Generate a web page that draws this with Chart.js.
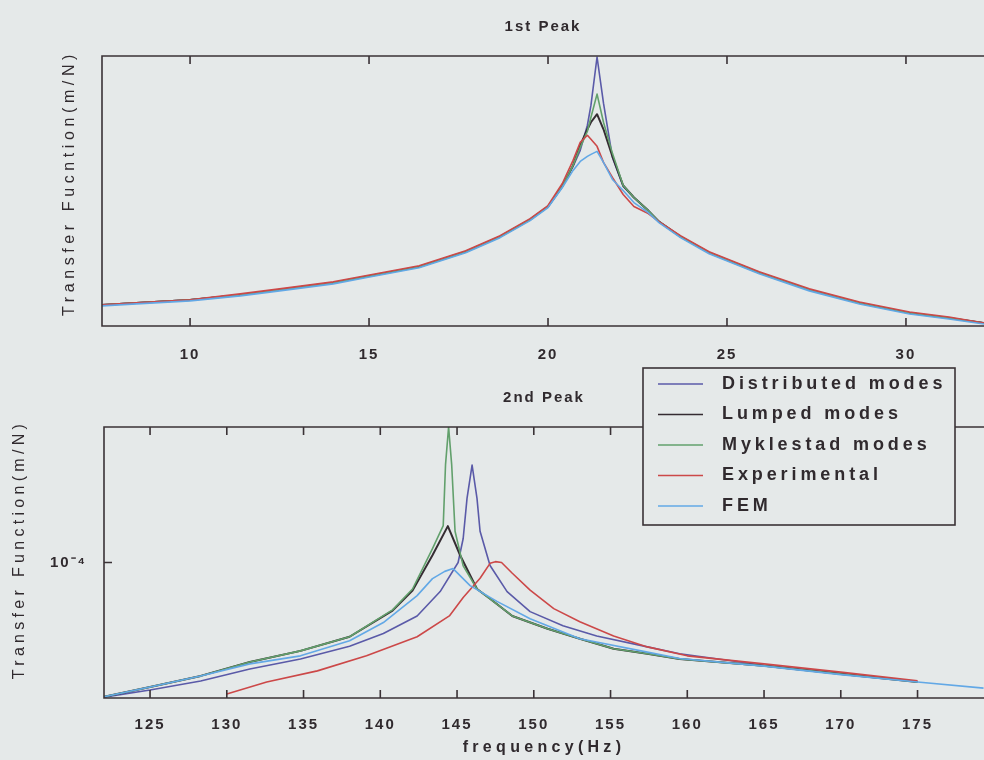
<!DOCTYPE html>
<html>
<head>
<meta charset="utf-8">
<title>Transfer function peaks</title>
<script src="https://cdn.jsdelivr.net/npm/chart.js@4.4.0/dist/chart.umd.min.js"></script>
<style>
  html, body { margin: 0; padding: 0; background: #e5e9e9; overflow: hidden; }
  .panel { position: absolute; left: 0; width: 984px; }
  #peak1 { top: 0; height: 360px; }
  #peak2 { top: 360px; height: 400px; }
</style>
</head>
<body>
<div class="panel" id="peak1"><canvas id="chart1"></canvas></div>
<div class="panel" id="peak2"><canvas id="chart2"></canvas></div>
<script>
// series shared by both subplots
const seriesNames = ['Distributed modes', 'Lumped modes', 'Myklestad modes', 'Experimental', 'FEM'];
const seriesColors = ['#5a5aa8', '#352c32', '#62a06c', '#cc4848', '#62a8e6'];
const seriesWidths = [1.6, 2, 1.6, 1.6, 1.6];

// 1st peak: frequency (Hz) and magnitude (x1e-5 m/N)
const freq1 = [7.54, 8.5, 10, 11.4, 12.5, 14, 14.9, 16.4, 17.7, 18.66, 19.5, 20, 20.4, 20.7, 20.9, 21.1, 21.2, 21.37, 21.55, 21.8, 22.1, 22.4, 22.8, 23.1, 23.7, 24.5, 25.9, 27.3, 28.7, 30.1, 31.2, 32.18];
const distMag1 = [2.1, 2.3, 2.6, 3.1, 3.6, 4.3, 4.9, 5.9, 7.4, 8.9, 10.6, 11.9, 13.9, 15.9, 17.5, 20.0, 22.0, 26.8, 22.2, 16.8, 13.9, 12.8, 11.5, 10.4, 8.9, 7.3, 5.3, 3.6, 2.3, 1.3, 0.8, 0.3];
const lumpMag1 = [2.1, 2.3, 2.6, 3.1, 3.6, 4.3, 4.9, 5.9, 7.4, 8.9, 10.6, 11.9, 13.9, 16.0, 18.0, 19.6, 20.3, 21.1, 19.6, 16.9, 14.0, 12.8, 11.5, 10.4, 8.9, 7.3, 5.3, 3.6, 2.3, 1.3, 0.8, 0.3];
const mykMag1 = [2.1, 2.3, 2.6, 3.1, 3.6, 4.3, 4.9, 5.9, 7.4, 8.9, 10.6, 11.9, 13.9, 16.0, 17.8, 19.4, 20.8, 23.1, 20.3, 17.2, 14.0, 12.8, 11.5, 10.4, 8.9, 7.3, 5.3, 3.6, 2.3, 1.3, 0.8, 0.3];
const expMag1 = [2.1, 2.3, 2.6, 3.2, 3.7, 4.4, 5.0, 6.0, 7.5, 9.0, 10.7, 12.0, 14.2, 16.5, 18.3, 19.0, 18.6, 17.9, 16.3, 14.8, 13.1, 11.9, 11.2, 10.4, 9.0, 7.4, 5.4, 3.7, 2.4, 1.4, 0.9, 0.3];
const femMag1 = [2.0, 2.2, 2.5, 3.0, 3.5, 4.2, 4.8, 5.8, 7.3, 8.8, 10.5, 11.8, 13.8, 15.5, 16.4, 16.9, 17.1, 17.4, 16.3, 14.6, 13.5, 12.3, 11.3, 10.3, 8.8, 7.2, 5.2, 3.5, 2.2, 1.2, 0.7, 0.2];
const xTicks1 = [10, 15, 20, 25, 30];

// 2nd peak: frequency (Hz) and magnitude (m/N), log axis
const distFreq2 = [122.0, 125, 128.3, 131.5, 134.8, 138.0, 140.2, 142.4, 143.9, 145.07, 145.4, 145.65, 145.98, 146.3, 146.5, 147.15, 148.26, 149.76, 151.9, 154.1, 157.4, 159.5, 165, 170, 175];
const distMag2 = [2.02e-5, 2.2e-5, 2.45e-5, 2.82e-5, 3.18e-5, 3.7e-5, 4.3e-5, 5.3e-5, 7.08e-5, 1.0e-4, 1.33e-4, 2.14e-4, 3.18e-4, 2.14e-4, 1.45e-4, 9.65e-5, 7.08e-5, 5.58e-5, 4.72e-5, 4.18e-5, 3.67e-5, 3.38e-5, 2.95e-5, 2.68e-5, 2.43e-5];
const lumpFreq2 = [122.0, 125, 128.3, 131.5, 134.8, 138.0, 140.8, 142.1, 143.4, 144.4, 145.2, 146.3, 147.15, 148.6, 150.9, 153, 155.2, 157.4, 159.5, 165, 170, 175];
const lumpMag2 = [2.03e-5, 2.28e-5, 2.6e-5, 3.07e-5, 3.5e-5, 4.14e-5, 5.65e-5, 7.16e-5, 1.09e-4, 1.54e-4, 1.09e-4, 7.3e-5, 6.5e-5, 5.3e-5, 4.55e-5, 4.04e-5, 3.59e-5, 3.38e-5, 3.18e-5, 2.93e-5, 2.66e-5, 2.42e-5];
const mykFreq2 = [122.0, 125, 128.3, 131.5, 134.8, 138.0, 140.8, 142.1, 143.4, 144.1, 144.25, 144.45, 144.65, 144.87, 145.4, 146.3, 147.15, 148.6, 150.9, 153, 155.2, 157.4, 159.5, 165, 170, 175];
const mykMag2 = [2.03e-5, 2.28e-5, 2.6e-5, 3.07e-5, 3.5e-5, 4.14e-5, 5.7e-5, 7.3e-5, 1.18e-4, 1.55e-4, 3.2e-4, 5.0e-4, 3.2e-4, 1.45e-4, 9.6e-5, 7.3e-5, 6.5e-5, 5.3e-5, 4.55e-5, 4.04e-5, 3.59e-5, 3.38e-5, 3.18e-5, 2.93e-5, 2.66e-5, 2.42e-5];
const expFreq2 = [130.0, 132.6, 135.9, 139.1, 142.4, 144.5, 145.4, 146.5, 147.15, 147.5, 147.9, 148.6, 149.76, 151.3, 153, 155.2, 157.4, 160, 165, 170, 175];
const expMag2 = [2.1e-5, 2.42e-5, 2.76e-5, 3.3e-5, 4.14e-5, 5.3e-5, 6.6e-5, 8.3e-5, 9.9e-5, 1.01e-4, 1.0e-4, 8.8e-5, 7.2e-5, 5.78e-5, 4.95e-5, 4.18e-5, 3.67e-5, 3.3e-5, 3.0e-5, 2.72e-5, 2.45e-5];
const femFreq2 = [122.0, 125, 128.3, 131.5, 134.8, 138.0, 140.2, 142.4, 143.4, 144.2, 144.74, 145.85, 147.6, 149.76, 153, 157.4, 159.5, 165, 170, 175, 179.3];
const femMag2 = [2.03e-5, 2.28e-5, 2.6e-5, 3.0e-5, 3.3e-5, 3.95e-5, 4.9e-5, 6.75e-5, 8.26e-5, 9.0e-5, 9.3e-5, 7.6e-5, 6.3e-5, 5.13e-5, 4.04e-5, 3.45e-5, 3.2e-5, 2.92e-5, 2.64e-5, 2.42e-5, 2.25e-5];
const xTicks2 = [125, 130, 135, 140, 145, 150, 155, 160, 165, 170, 175];
const yTicks2 = [1e-4];

const pageColor = '#e5e9e9';
const frameColor = '#3a3236';
const textColor = '#302a2e';
const fontFamily = '"Liberation Sans", Arial, sans-serif';

Chart.defaults.font.family = fontFamily;
Chart.defaults.font.weight = 'bold';
Chart.defaults.color = textColor;

const superDigits = { '-': '\u207B', '0': '\u2070', '1': '\u00B9', '2': '\u00B2', '3': '\u00B3', '4': '\u2074', '5': '\u2075', '6': '\u2076', '7': '\u2077', '8': '\u2078', '9': '\u2079' };
function powerLabel(v) {
  const exp = String(Math.round(Math.log10(v)));
  return '10' + exp.split('').map(c => superDigits[c]).join('');
}

function toPoints(xs, ys) {
  return xs.map((x, i) => ({ x: x, y: ys[i] }));
}

function buildDatasets(pairs) {
  return pairs.map((p, i) => ({
    label: seriesNames[i],
    data: toPoints(p[0], p[1]),
    borderColor: seriesColors[i],
    borderWidth: seriesWidths[i],
    order: pairs.length - i   // later series end up on top
  }));
}

// box, inward ticks on bottom/top/left, spaced-out axis titles
const matlabAxes = {
  id: 'matlabAxes',
  beforeDraw(chart) {
    chart.ctx.letterSpacing = '2px';
  },
  afterDatasetsDraw(chart) {
    const { ctx, chartArea: a, scales } = chart;
    ctx.save();
    ctx.strokeStyle = frameColor;
    ctx.lineWidth = 1.6;
    ctx.beginPath();
    ctx.moveTo(a.right + 2, a.top);
    ctx.lineTo(a.left, a.top);
    ctx.lineTo(a.left, a.bottom);
    ctx.lineTo(a.right + 2, a.bottom);
    scales.x.ticks.forEach(t => {
      const px = scales.x.getPixelForValue(t.value);
      ctx.moveTo(px, a.bottom);
      ctx.lineTo(px, a.bottom - 8);
      ctx.moveTo(px, a.top);
      ctx.lineTo(px, a.top + 8);
    });
    scales.y.ticks.forEach(t => {
      const py = scales.y.getPixelForValue(t.value);
      ctx.moveTo(a.left, py);
      ctx.lineTo(a.left + 8, py);
    });
    ctx.stroke();
    ctx.restore();
  },
  afterDraw(chart, args, opts) {
    const { ctx, chartArea: a } = chart;
    ctx.save();
    ctx.fillStyle = textColor;
    ctx.textAlign = 'center';
    ctx.textBaseline = 'middle';
    ctx.letterSpacing = opts.spacing + 'px';
    if (opts.yTitle) {
      ctx.save();
      ctx.font = '16px ' + fontFamily;
      ctx.translate(opts.yTitleX, (a.top + a.bottom) / 2 + opts.yTitleShift);
      ctx.rotate(-Math.PI / 2);
      ctx.fillText(opts.yTitle, 0, 0);
      ctx.restore();
    }
    if (opts.xTitle) {
      ctx.font = 'bold 16px ' + fontFamily;
      ctx.fillText(opts.xTitle, (a.left + a.right) / 2, opts.xTitleY);
    }
    ctx.restore();
  }
};

const peakLegend = {
  id: 'peakLegend',
  afterDraw(chart, args, opts) {
    if (!opts.show) return;
    const ctx = chart.ctx;
    ctx.save();
    ctx.fillStyle = pageColor;
    ctx.fillRect(opts.x, opts.y, opts.w, opts.h);
    ctx.strokeStyle = frameColor;
    ctx.lineWidth = 1.6;
    ctx.strokeRect(opts.x, opts.y, opts.w, opts.h);
    ctx.font = 'bold 18px ' + fontFamily;
    ctx.letterSpacing = '3.9px';
    ctx.textBaseline = 'middle';
    ctx.textAlign = 'left';
    chart.data.datasets.forEach((ds, i) => {
      const y = opts.y + opts.rowTop + i * opts.rowGap;
      ctx.strokeStyle = ds.borderColor;
      ctx.lineWidth = 1.6;
      ctx.beginPath();
      ctx.moveTo(opts.x + 15, y);
      ctx.lineTo(opts.x + 60, y);
      ctx.stroke();
      ctx.fillStyle = textColor;
      ctx.fillText(ds.label, opts.x + 79, y);
    });
    ctx.restore();
  }
};

function makePeakChart(canvasId, cfg) {
  return new Chart(document.getElementById(canvasId), {
    type: 'line',
    data: { datasets: cfg.datasets },
    plugins: [matlabAxes, peakLegend],
    options: {
      responsive: true,
      maintainAspectRatio: false,
      animation: false,
      layout: { padding: 0 },
      elements: {
        point: { radius: 0 },
        line: { tension: 0, borderJoinStyle: 'round' }
      },
      plugins: {
        legend: { display: false },
        tooltip: { enabled: false },
        title: {
          display: true,
          text: cfg.title,
          fullSize: false,
          font: { size: 15, weight: 'bold' },
          color: textColor,
          padding: { top: cfg.titleTop, bottom: cfg.titleBottom }
        },
        matlabAxes: cfg.axisTitles,
        peakLegend: cfg.legend
      },
      scales: {
        x: {
          type: 'linear',
          min: cfg.xMin,
          max: cfg.xMax,
          grid: { display: false },
          border: { display: false },
          afterBuildTicks: s => { s.ticks = cfg.xTicks.map(v => ({ value: v })); },
          afterFit: s => { s.height = cfg.xHeight; },
          ticks: {
            font: { size: 15, weight: 'bold' },
            padding: cfg.xTickPad,
            maxRotation: 0,
            callback: v => String(v)
          }
        },
        y: {
          type: cfg.yType,
          min: cfg.yMin,
          max: cfg.yMax,
          grid: { display: false, drawTicks: false },
          border: { display: false },
          afterBuildTicks: s => { s.ticks = cfg.yTicks.map(v => ({ value: v })); },
          afterFit: s => { s.width = cfg.yWidth; },
          ticks: {
            font: { size: 15, weight: 'bold' },
            padding: 17,
            callback: v => powerLabel(v)
          }
        }
      }
    }
  });
}

makePeakChart('chart1', {
  title: '1st Peak',
  titleTop: 18,
  titleBottom: 20,
  datasets: buildDatasets([
    [freq1, distMag1], [freq1, lumpMag1], [freq1, mykMag1], [freq1, expMag1], [freq1, femMag1]
  ]),
  xMin: 7.54, xMax: 32.18, xTicks: xTicks1, xHeight: 34, xTickPad: 12,
  yType: 'linear', yMin: 0, yMax: 26.9, yTicks: [], yWidth: 102,
  axisTitles: { yTitle: 'Transfer Fucntion(m/N)', yTitleX: 70, yTitleShift: -8, spacing: 4.6 },
  legend: { show: false }
});

makePeakChart('chart2', {
  title: '2nd Peak',
  titleTop: 29,
  titleBottom: 20,
  datasets: buildDatasets([
    [distFreq2, distMag2], [lumpFreq2, lumpMag2], [mykFreq2, mykMag2], [expFreq2, expMag2], [femFreq2, femMag2]
  ]),
  xMin: 122.0, xMax: 179.33, xTicks: xTicks2, xHeight: 62, xTickPad: 10,
  yType: 'logarithmic', yMin: 2e-5, yMax: 5e-4, yTicks: yTicks2, yWidth: 104,
  axisTitles: { yTitle: 'Transfer Function(m/N)', yTitleX: 20, yTitleShift: -13, spacing: 4.3, xTitle: 'frequency(Hz)', xTitleY: 388 },
  legend: { show: true, x: 643, y: 8, w: 312, h: 157, rowTop: 16, rowGap: 30.5 }
});
</script>
</body>
</html>
